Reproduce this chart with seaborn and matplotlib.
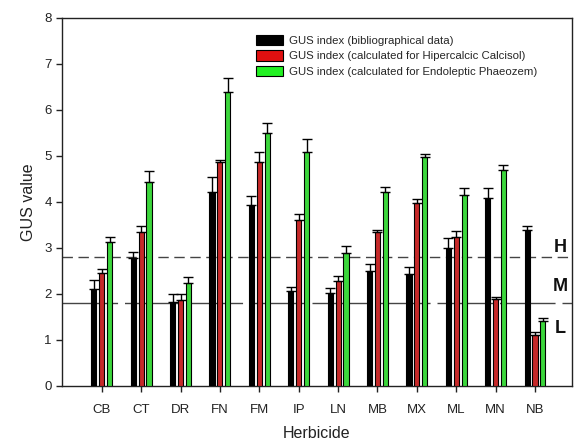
import matplotlib
matplotlib.use("Agg")
import matplotlib.pyplot as plt
import matplotlib.transforms as mtransforms
from matplotlib.patches import Patch
import numpy as np
import pandas as pd
import seaborn as sns

# Herbicides and GUS leaching-potential indices
herbicides = ["CB", "CT", "DR", "FN", "FM", "IP", "LN", "MB", "MX", "ML", "MN", "NB"]
series_names = [
    "GUS index (bibliographical data)",
    "GUS index (calculated for Hipercalcic Calcisol)",
    "GUS index (calculated for Endoleptic Phaeozem)",
]
gus_biblio = [2.10, 2.78, 1.82, 4.22, 3.93, 2.07, 2.03, 2.51, 2.43, 3.01, 4.08, 3.39]
gus_biblio_err = [0.20, 0.14, 0.17, 0.33, 0.20, 0.08, 0.11, 0.14, 0.15, 0.21, 0.23, 0.09]
gus_calcisol = [2.45, 3.35, 1.87, 4.86, 4.86, 3.61, 2.28, 3.34, 3.97, 3.24, 1.89, 1.11]
gus_calcisol_err = [0.09, 0.13, 0.12, 0.05, 0.23, 0.12, 0.11, 0.05, 0.10, 0.14, 0.05, 0.07]
gus_phaeozem = [3.12, 4.44, 2.25, 6.40, 5.51, 5.09, 2.90, 4.22, 4.97, 4.15, 4.70, 1.42]
gus_phaeozem_err = [0.12, 0.23, 0.13, 0.30, 0.21, 0.27, 0.14, 0.11, 0.07, 0.15, 0.10, 0.05]

# Leaching class thresholds (H: leacher, M: transition, L: non-leacher)
threshold_high = 2.8
threshold_low = 1.8
class_labels = ["H", "M", "L"]
class_label_y = [3.02, 2.16, 1.26]

colors = ["#000000", "#e01010", "#22f022"]

values = [gus_biblio, gus_calcisol, gus_phaeozem]
errors = [gus_biblio_err, gus_calcisol_err, gus_phaeozem_err]

df = pd.DataFrame({
    "Herbicide": np.tile(herbicides, 3),
    "GUS value": np.concatenate(values),
    "Series": np.repeat(series_names, len(herbicides)),
})

sns.set_theme(style="white")
plt.rcParams["font.family"] = ["Liberation Sans", "DejaVu Sans"]

fig = plt.figure(figsize=(5.74, 4.46), dpi=100)
ax = fig.add_axes([62 / 574, 1 - 386 / 446, 510 / 574, 368 / 446])

sns.barplot(
    data=df, x="Herbicide", y="GUS value", hue="Series",
    order=herbicides, hue_order=series_names, palette=colors,
    width=0.6, gap=0.35, edgecolor="black", linewidth=0.8,
    errorbar=None, legend=False, ax=ax, zorder=3,
)

# upward-only error bars on each bar
for container, err in zip(ax.containers, errors):
    xs = [p.get_x() + p.get_width() / 2 for p in container.patches]
    hs = [p.get_height() for p in container.patches]
    ax.errorbar(xs, hs, yerr=[np.zeros(len(err)), err], fmt="none",
                ecolor="black", elinewidth=1.0, capsize=3.5, capthick=1.0,
                zorder=4)

# threshold lines
ax.axhline(threshold_high, color="#444444", linewidth=1.0, dashes=(7.5, 4), zorder=2)
ax.axhline(threshold_low, color="#444444", linewidth=1.0, dashes=(40, 5), zorder=2)

trans = mtransforms.blended_transform_factory(ax.transAxes, ax.transData)
for lab, yv in zip(class_labels, class_label_y):
    ax.text(0.977, yv, lab, transform=trans, ha="center", va="center",
            fontsize=13, fontweight="bold", color="#111111")

ax.set_xlim(-1.01, 11.94)
ax.set_ylim(0, 8)
ax.set_yticks(range(0, 9))
ax.set_xlabel("Herbicide", fontsize=11.5, color="#222222", labelpad=7)
ax.set_ylabel("GUS value", fontsize=11.5, color="#222222", labelpad=6)
ax.tick_params(axis="both", which="both", direction="out", length=4, width=1,
               color="#222222", labelsize=9.5, labelcolor="#222222",
               bottom=True, left=True, top=False, right=False)
ax.tick_params(axis="x", pad=9)
for s in ax.spines.values():
    s.set_color("#222222")
    s.set_linewidth(1.0)

handles = [Patch(facecolor=c, edgecolor="black", linewidth=0.8) for c in colors]
ax.legend(handles, series_names, loc="upper left",
          bbox_to_anchor=((256 - 62) / 510, (386 - 35) / 368),
          frameon=False, fontsize=8.2, handlelength=2.4, handleheight=1.0,
          handletextpad=0.5, labelspacing=0.38, borderaxespad=0, borderpad=0)

fig.savefig("out.png", dpi=100)
